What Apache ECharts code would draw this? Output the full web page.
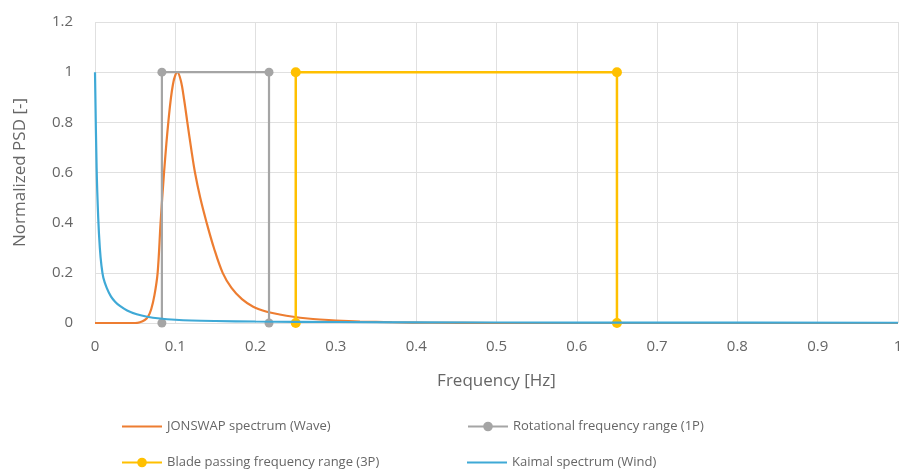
<!DOCTYPE html>
<html>
<head>
<meta charset="utf-8">
<script src="https://cdn.jsdelivr.net/npm/echarts@6/dist/echarts.min.js"></script>
<style>html,body{margin:0;padding:0;background:#fff;}#c{width:899px;height:474px;}</style>
</head>
<body>
<div id="c"></div>
<script>
const seriesNames = ['JONSWAP spectrum (Wave)', 'Rotational frequency range (1P)', 'Blade passing frequency range (3P)', 'Kaimal spectrum (Wind)'];
const xTicks = [0, 0.1, 0.2, 0.3, 0.4, 0.5, 0.6, 0.7, 0.8, 0.9, 1];
const yTicks = [0, 0.2, 0.4, 0.6, 0.8, 1, 1.2];

const jonswapFreq = [0, 0.05, 0.056, 0.062, 0.066, 0.07, 0.074, 0.078, 0.0817, 0.086, 0.0913, 0.097, 0.1025, 0.107, 0.111, 0.115, 0.12, 0.1245, 0.131, 0.139, 0.148, 0.159, 0.17, 0.183, 0.197, 0.214, 0.23, 0.247, 0.265, 0.28, 0.3, 0.33, 0.37, 0.42, 0.5, 1.0];
const jonswapPSD  = [0, 0, 0.003, 0.012, 0.025, 0.055, 0.11, 0.2, 0.4, 0.6, 0.8, 0.95, 1.0, 0.965, 0.89, 0.8, 0.69, 0.6, 0.5, 0.4, 0.3, 0.2, 0.14, 0.095, 0.065, 0.045, 0.034, 0.025, 0.018, 0.014, 0.01, 0.006, 0.003, 0.001, 0, 0];

const rot1PFreq = [0.0833, 0.0833, 0.2167, 0.2167];
const rot1PPSD  = [0, 1, 1, 0];

const blade3PFreq = [0.25, 0.25, 0.65, 0.65];
const blade3PPSD  = [0, 1, 1, 0];

const kaimalFreq = [0, 0.002, 0.004, 0.006, 0.008, 0.0104, 0.0146, 0.02, 0.025, 0.031, 0.04, 0.052, 0.065, 0.081, 0.1, 0.12, 0.15, 0.2, 0.3, 0.5, 0.7, 1.0];
const kaimalPSD  = [1, 0.62, 0.42, 0.3, 0.23, 0.18, 0.14, 0.105, 0.085, 0.068, 0.05, 0.035, 0.025, 0.018, 0.013, 0.01, 0.008, 0.006, 0.004, 0.002, 0.0015, 0.001];

const zip = (a, b) => a.map((v, i) => [v, b[i]]);
const fmt = v => String(Math.round(v * 10) / 10);

const font = '"Open Sans", "Liberation Sans", sans-serif';
const txt = '#666666';
const legendText = { fontFamily: font, fontSize: 13, color: txt };
const mkLegend = (name, left, top, plain) => ({
  data: plain ? [{ name: name, itemStyle: { opacity: 0 } }] : [name],
  left: left, top: top,
  itemWidth: 40, itemHeight: 12,
  textStyle: legendText, padding: 0, selectedMode: false
});

const chart = echarts.init(document.getElementById('c'), null, { renderer: 'canvas' });
chart.setOption({
  animation: false,
  backgroundColor: '#fff',
  grid: { left: 95, right: 1, top: 22, bottom: 151, outerBoundsMode: 'none' },
  legend: [
    mkLegend(seriesNames[0], 121, 420, true),
    mkLegend(seriesNames[1], 467, 420, false),
    mkLegend(seriesNames[2], 121, 456, false),
    mkLegend(seriesNames[3], 466, 456, true)
  ],
  xAxis: {
    type: 'value', min: xTicks[0], max: xTicks[xTicks.length - 1], interval: 0.1,
    name: 'Frequency [Hz]', nameLocation: 'middle', nameGap: 50,
    nameTextStyle: { fontFamily: font, fontSize: 17, color: txt },
    axisLine: { show: false }, axisTick: { show: false },
    axisLabel: { margin: 16, fontFamily: font, fontSize: 15, color: txt, formatter: fmt, showMaxLabel: true },
    splitLine: { show: true, lineStyle: { color: '#E0E0E0', width: 1 } }
  },
  yAxis: {
    type: 'value', min: yTicks[0], max: yTicks[yTicks.length - 1], interval: 0.2,
    name: 'Normalized PSD [-]', nameLocation: 'middle', nameGap: 66,
    nameTextStyle: { fontFamily: font, fontSize: 17, color: txt },
    axisLine: { show: false }, axisTick: { show: false },
    axisLabel: { margin: 22, fontFamily: font, fontSize: 15, color: txt, formatter: fmt },
    splitLine: { show: true, lineStyle: { color: '#E0E0E0', width: 1 } }
  },
  series: [
    {
      name: seriesNames[0], type: 'line', data: zip(jonswapFreq, jonswapPSD),
      smooth: 0.35, symbol: 'none', showSymbol: false,
      lineStyle: { color: '#ED7D31', width: 2.2 }, itemStyle: { color: '#ED7D31' }, z: 2
    },
    {
      name: seriesNames[1], type: 'line', data: zip(rot1PFreq, rot1PPSD),
      symbol: 'circle', symbolSize: 9,
      lineStyle: { color: '#A5A5A5', width: 2.2 }, itemStyle: { color: '#A5A5A5' }, z: 3
    },
    {
      name: seriesNames[2], type: 'line', data: zip(blade3PFreq, blade3PPSD),
      symbol: 'circle', symbolSize: 10,
      lineStyle: { color: '#FFC000', width: 2.5 }, itemStyle: { color: '#FFC000' }, z: 4
    },
    {
      name: seriesNames[3], type: 'line', data: zip(kaimalFreq, kaimalPSD),
      smooth: 0.35, symbol: 'none', showSymbol: false,
      lineStyle: { color: '#3FA9D6', width: 2.2 }, itemStyle: { color: '#3FA9D6' }, z: 5
    }
  ]
});
</script>
</body>
</html>
